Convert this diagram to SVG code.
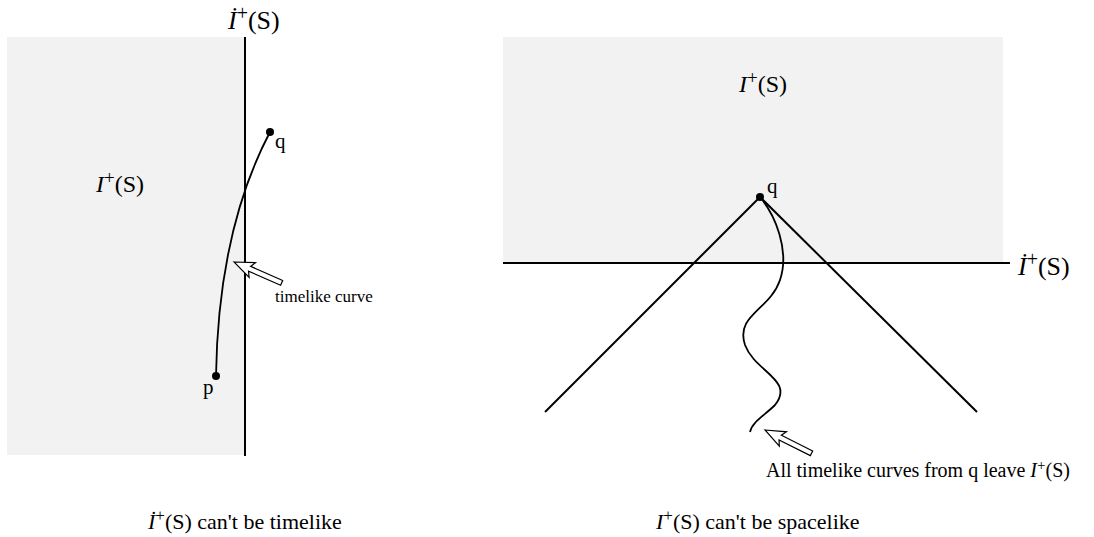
<svg xmlns="http://www.w3.org/2000/svg" width="1094" height="537" viewBox="0 0 1094 537">
<defs>
<style>
.ln{stroke:#000;stroke-width:2;fill:none}
.cv{stroke:#000;stroke-width:1.8;fill:none}
.reg{fill:#f2f2f2}
.ar{fill:#fff;stroke:#000;stroke-width:1.2;stroke-linejoin:miter}
</style>
<polygon id="harrow" class="ar" points="0,0 20,-8 17,-2.6 52,-2.6 52,2.6 17,2.6 20,8"/>
</defs>
<rect width="1094" height="537" fill="#fff"/>
<g id="left-region"><rect class="reg" x="7" y="37" width="238" height="418"/></g>
<g id="right-region"><rect class="reg" x="503" y="37" width="500" height="226"/></g>
<g id="connectors">
<line class="ln" x1="245" y1="37" x2="245" y2="456"/>
<line class="ln" x1="503" y1="263" x2="1010" y2="263"/>
<path class="cv" d="M270,132 C250,170 218,245 216,376"/>
<line class="ln" x1="760" y1="197" x2="545" y2="412"/>
<line class="ln" x1="760" y1="197" x2="977" y2="412"/>
<path class="cv" d="M760,197 C775,215 790,250 780,280 C770,310 735,315 745,345 C755,372 795,380 775,405 C765,415 752,422 750,432"/>
<use href="#harrow" transform="translate(234,262) rotate(23.6)"/>
<use href="#harrow" transform="translate(765,430) rotate(26.6)"/>
</g>
<g id="points">
<circle cx="270" cy="132" r="4"/>
<circle cx="216" cy="376" r="4"/>
<circle cx="760" cy="197" r="4"/>
</g>
<g id="labels" font-family="'Liberation Serif', 'Times New Roman', serif" fill="#000">
<text x="228" y="29" font-size="26"><tspan font-style="italic">İ</tspan><tspan font-size="20" dy="-9">+</tspan><tspan dy="9">(S)</tspan></text>
<text x="96" y="192" font-size="24"><tspan font-style="italic">I</tspan><tspan font-size="19" dy="-8">+</tspan><tspan dy="8">(S)</tspan></text>
<text x="739" y="92" font-size="24"><tspan font-style="italic">I</tspan><tspan font-size="19" dy="-8">+</tspan><tspan dy="8">(S)</tspan></text>
<text x="1018" y="275" font-size="26"><tspan font-style="italic">İ</tspan><tspan font-size="20" dy="-9">+</tspan><tspan dy="9">(S)</tspan></text>
<text x="275" y="148" font-size="21">q</text>
<text x="203" y="394" font-size="21">p</text>
<text x="767" y="193" font-size="21">q</text>
<text x="275" y="302" font-size="17">timelike curve</text>
<text x="766" y="477" font-size="20">All timelike curves from q leave <tspan font-style="italic">I</tspan><tspan font-size="15" dy="-7">+</tspan><tspan dy="7">(S)</tspan></text>
<text x="148" y="529" font-size="22"><tspan font-style="italic">İ</tspan><tspan font-size="17" dy="-8">+</tspan><tspan dy="8">(S) can't be timelike</tspan></text>
<text x="656" y="529" font-size="22"><tspan font-style="italic">I</tspan><tspan font-size="17" dy="-8">+</tspan><tspan dy="8">(S) can't be spacelike</tspan></text>
</g>
</svg>
